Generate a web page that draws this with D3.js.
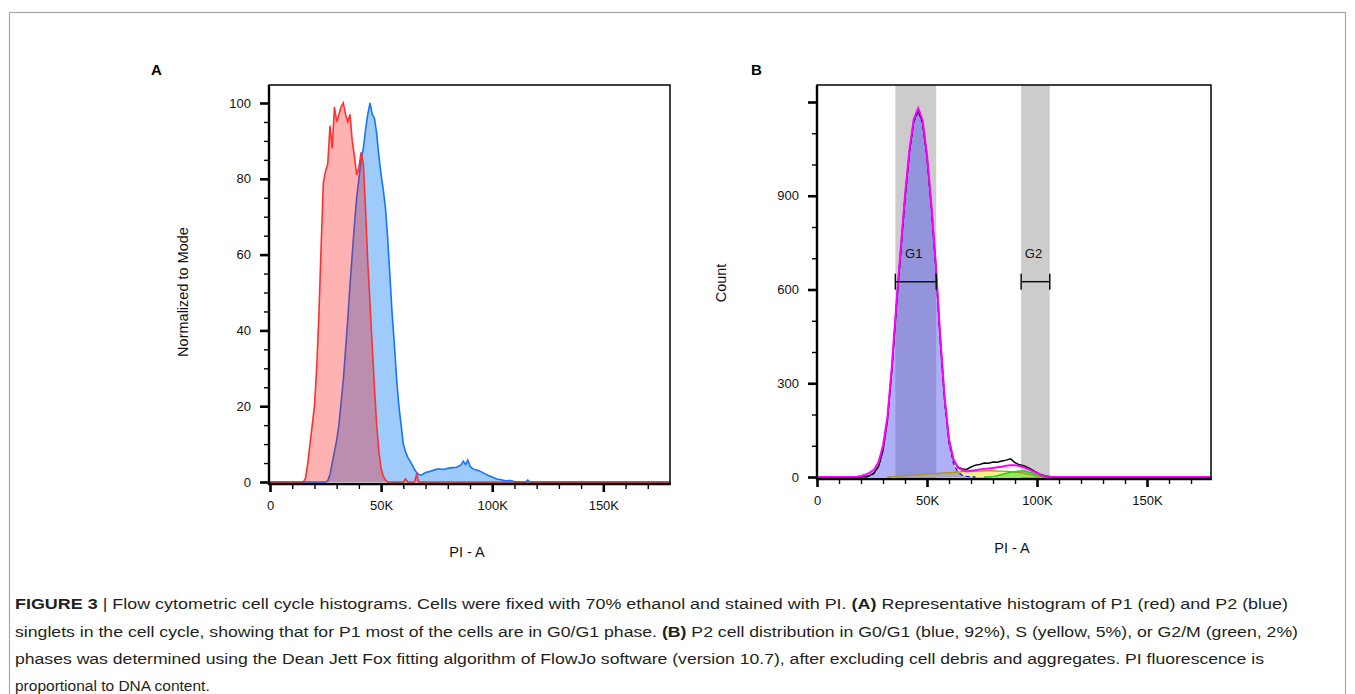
<!DOCTYPE html>
<html>
<head>
<meta charset="utf-8">
<script src="https://cdn.jsdelivr.net/npm/d3@7"></script>
<style>
  body { margin: 0; background: #fff; }
  svg { display: block; font-family: 'Liberation Sans', Arial, sans-serif; }
</style>
</head>
<body>
<script>
// ---- panel A: PI-A bins (in K) and % of mode ----
const p1Bins = [15, 16, 17, 18, 19, 20, 21, 22, 23, 24, 25, 26, 27, 28, 29, 30, 31, 32, 33, 34, 35, 36, 37, 38, 39, 40,
  41, 42, 43, 44, 45, 46, 47, 48, 49, 50, 51, 52, 53, 60, 61, 62, 65, 66, 67]
const p1Values = [0, 1, 5, 10, 15, 20, 30, 44, 62, 79, 82, 84, 94, 88, 99, 95, 97, 99, 100, 97, 95, 97, 90, 86, 81, 83,
  87, 84, 72, 58, 47, 36, 25, 15, 8, 3.5, 1.5, 0.5, 0, 0, 0.8, 0, 0, 2, 0]

const p2Bins = [25, 26, 27, 28, 29, 30, 31, 32, 33, 34, 35, 36, 37, 38, 39, 40, 41, 42, 43, 44, 45, 46, 47, 48, 49, 50,
  51, 52, 53, 54, 55, 56, 57, 58, 59, 60, 61, 62, 63, 64, 65, 66, 67, 68, 70, 72, 74, 76, 78, 80, 82, 84, 86, 87, 88,
  89, 90, 91, 92, 94, 96, 98, 100, 102, 104, 106, 108, 110, 112, 115, 116, 117]
const p2Values = [0, 0.3, 2, 5, 8, 11, 15, 21, 27, 35, 43, 52, 60, 68, 75, 80, 85, 88, 93, 97, 100, 97, 96, 92, 86, 81,
  77, 72, 64, 54, 44, 36, 27, 20, 15, 10, 8, 6.5, 5.5, 4.5, 3.3, 2.5, 2, 1.8, 2.5, 2.8, 3.2, 3.5, 3.3, 3.6, 3.8, 3.9, 4.5, 5.5, 4.6,
  5.8, 4.2, 3.6, 3.3, 3, 2.4, 1.8, 1.3, 0.8, 0.6, 0.3, 0.4, 0.1, 0, 0, 0.5, 0]

// ---- panel B: counts per bin, raw data + Dean Jett Fox model ----
const countBins = [16, 18, 20, 22, 24, 26, 28, 30, 32, 34, 36, 38, 40, 42, 44, 46, 48, 50, 52, 54, 56, 58, 60, 62,
  64, 66, 68, 70, 72, 74, 76, 78, 80, 82, 84, 86, 88, 90, 92, 94, 96, 98, 100, 102, 104, 106, 108, 110]
const dataCounts = [0, 0, 0, 1, 5, 14, 35, 85, 182, 342, 538, 718, 893, 1040, 1140, 1176, 1135, 1025, 865, 675, 445, 250,
  118, 55, 32, 26, 24, 32, 38, 40, 45, 44, 48, 47, 51, 54, 58, 46, 39, 36, 30, 22, 14, 7, 3, 1, 0.5, 0]
const fitCounts = [0, 1, 3, 7, 14, 24, 48, 100, 190, 350, 545, 725, 900, 1046, 1145, 1180, 1142, 1030, 870, 680, 450, 255,
  120, 58, 30, 22, 18, 20, 22, 24, 26, 27, 29, 31, 33, 36, 38, 38, 35, 31, 25, 19, 13, 6, 2, 0.5, 0, 0]
const g1Counts = [0, 0, 0, 0, 2, 12, 36, 88, 184, 344, 538, 717, 891, 1036, 1135, 1170, 1132, 1020, 860, 668, 438, 243,
  108, 44, 16, 6, 2, 0.5, 0, 0, 0, 0, 0, 0, 0, 0, 0, 0, 0, 0, 0, 0, 0, 0, 0, 0, 0, 0]
const sCounts = [0, 0, 0, 0, 0, 0, 0, 0, 0, 1, 2, 3, 4, 5, 6, 7, 8, 9, 10, 11, 12, 13,
  14, 15, 16, 17, 18, 18, 19, 19, 20, 20, 20, 19, 19, 18, 17, 16, 14, 12, 9, 6, 3, 1, 0, 0, 0, 0]
const g2Counts = [0, 0, 0, 0, 0, 0, 0, 0, 0, 0, 0, 0, 0, 0, 0, 0, 0, 0, 0, 0, 0, 0,
  0, 0, 0, 0, 0, 0, 0, 0, 0, 0.5, 2, 4, 8, 12, 15, 17, 19, 19, 16, 12, 7, 3, 1, 0, 0, 0]

const gateNames = ['G1', 'G2']
const gateFrom = [35.6, 92.8]
const gateTo = [54.2, 105.8]
const gateLevel = 625

// ---- ticks ----
const piTicks = [0, 50, 100, 150]
const piLabels = ['0', '50K', '100K', '150K']
const modeTicks = [0, 20, 40, 60, 80, 100]
const modeLabels = ['0', '20', '40', '60', '80', '100']
const countTicks = [0, 300, 600, 900, 1200]
const countLabels = ['0', '300', '600', '900', '']

const captionLines = [
  [['FIGURE 3', true], [' | Flow cytometric cell cycle histograms. Cells were fixed with 70% ethanol and stained with PI. ', false],
    ['(A)', true], [' Representative histogram of P1 (red) and P2 (blue)', false]],
  [['singlets in the cell cycle, showing that for P1 most of the cells are in G0/G1 phase. ', false], ['(B)', true],
    [' P2 cell distribution in G0/G1 (blue, 92%), S (yellow, 5%), or G2/M (green, 2%)', false]],
  [['phases was determined using the Dean Jett Fox fitting algorithm of FlowJo software (version 10.7), after excluding cell debris and aggregates. PI fluorescence is', false]],
  [['proportional to DNA content.', false]]
]
const captionWidths = [1273, 1283, 1249, null]

function zip (bins, vals, xMax) {
  return [[0, 0]].concat(bins.map((b, i) => [b, vals[i]]), [[xMax, 0]])
}

function frame (svg, box, x, y, { yTicks, yLabels, yMinorStep, clipId }) {
  svg.append('clipPath').attr('id', clipId)
    .append('rect')
    .attr('x', box.left).attr('y', box.top)
    .attr('width', box.right - box.left).attr('height', box.bottom - box.top)

  const axes = svg.append('g')

  const styleAxis = (g, width) => {
    g.select('.domain').remove()
    g.selectAll('line').attr('stroke', '#000').attr('stroke-width', width)
    g.selectAll('text').attr('font-size', 13).attr('fill', '#111')
      .attr('font-family', "'Liberation Sans', Arial, sans-serif")
  }

  const yMinor = d3.range(0, y.domain()[1] + 0.01, yMinorStep).filter(v => !yTicks.includes(v))
  axes.append('g').attr('transform', `translate(${box.left},0)`)
    .call(d3.axisLeft(y).tickValues(yMinor).tickSize(5).tickFormat(''))
    .call(g => styleAxis(g, 1.4))
  axes.append('g').attr('transform', `translate(${box.left},0)`)
    .call(d3.axisLeft(y).tickValues(yTicks).tickSize(9).tickPadding(9).tickFormat((d, i) => yLabels[i]))
    .call(g => styleAxis(g, 2.6))

  const xMinor = d3.range(10, 175, 10).filter(v => !piTicks.includes(v))
  axes.append('g').attr('transform', `translate(0,${box.bottom})`)
    .call(d3.axisBottom(x).tickValues(xMinor).tickSize(5).tickFormat(''))
    .call(g => styleAxis(g, 1.4))
  axes.append('g').attr('transform', `translate(0,${box.bottom})`)
    .call(d3.axisBottom(x).tickValues(piTicks).tickSize(8).tickPadding(9).tickFormat((d, i) => piLabels[i]))
    .call(g => styleAxis(g, 2.6))

  return axes
}

function outline (svg, box) {
  svg.append('rect')
    .attr('x', box.left).attr('y', box.top)
    .attr('width', box.right - box.left).attr('height', box.bottom - box.top)
    .attr('fill', 'none').attr('stroke', '#000').attr('stroke-width', 1.5)
  svg.append('line')
    .attr('x1', box.left).attr('x2', box.left).attr('y1', box.top).attr('y2', box.bottom + 1)
    .attr('stroke', '#000').attr('stroke-width', 2.4)
  svg.append('line')
    .attr('x1', box.left - 1).attr('x2', box.right + 0.75).attr('y1', box.bottom).attr('y2', box.bottom)
    .attr('stroke', '#000').attr('stroke-width', 2.4)
}

function panelA (svg) {
  const box = { left: 269, top: 85, right: 670, bottom: 484 }
  const x = d3.scaleLinear([0, 180], [270, 670])
  const y = d3.scaleLinear([0, 100], [482, 103])

  frame(svg, box, x, y, { yTicks: modeTicks, yLabels: modeLabels, yMinorStep: 5, clipId: 'clipA' })

  const area = d3.area().x(d => x(d[0])).y0(y(0)).y1(d => y(d[1]))
  const line = d3.line().x(d => x(d[0])).y(d => y(d[1]))
  const p1 = zip(p1Bins, p1Values, 180)
  const p2 = zip(p2Bins, p2Values, 180)

  const g = svg.append('g').attr('clip-path', 'url(#clipA)')
  g.append('path').attr('d', area(p2)).attr('fill', '#9ecbfa')
  g.append('path').attr('d', line(p2)).attr('fill', 'none').attr('stroke', '#1476ff').attr('stroke-width', 1.6)
  g.append('path').attr('d', area(p1)).attr('fill', 'rgba(255,0,0,0.3)')
  g.append('path').attr('d', line(p1)).attr('fill', 'none').attr('stroke', '#ff3030').attr('stroke-width', 1.6)

  outline(svg, box)

  svg.append('text').attr('x', 467).attr('y', 557).attr('text-anchor', 'middle')
    .attr('font-size', 14.5).attr('fill', '#111').text('PI - A')
  svg.append('text').attr('transform', 'translate(188,292) rotate(-90)').attr('text-anchor', 'middle')
    .attr('font-size', 14.5).attr('fill', '#111').text('Normalized to Mode')
  svg.append('text').attr('x', 151).attr('y', 75).attr('font-size', 15).attr('font-weight', 'bold').text('A')
}

function panelB (svg) {
  const box = { left: 817, top: 85, right: 1211, bottom: 479 }
  const x = d3.scaleLinear([0, 180], [817, 1213])
  const y = d3.scaleLinear([0, 1200], [477, 102])

  const bands = svg.append('g')
  gateNames.forEach((name, i) => {
    bands.append('rect')
      .attr('x', x(gateFrom[i])).attr('y', box.top)
      .attr('width', x(gateTo[i]) - x(gateFrom[i])).attr('height', box.bottom - box.top)
      .attr('fill', '#cccccc')
  })

  frame(svg, box, x, y, { yTicks: countTicks, yLabels: countLabels, yMinorStep: 100, clipId: 'clipB' })

  const area = d3.area().x(d => x(d[0])).y0(y(0)).y1(d => y(d[1]))
  const line = d3.line().x(d => x(d[0])).y(d => y(d[1]))
  const g = svg.append('g').attr('clip-path', 'url(#clipB)')

  const sPts = countBins.map((b, i) => [b, sCounts[i]]).filter((d, i) => i >= 8 && i <= 44)
  const g2Pts = countBins.map((b, i) => [b, g2Counts[i]]).filter((d, i) => i >= 30 && i <= 45)
  const g1Pts = countBins.map((b, i) => [b, g1Counts[i]]).filter((d, i) => i >= 3 && i <= 28)

  g.append('path').attr('d', area(sPts)).attr('fill', '#f8f08c')
  g.append('path').attr('d', area(g2Pts)).attr('fill', 'rgba(130,225,80,0.8)')
  g.append('path').attr('d', area(g1Pts)).attr('fill', 'rgba(80,80,240,0.45)')
  g.append('path').attr('d', line(sPts)).attr('fill', 'none').attr('stroke', '#a89818').attr('stroke-width', 1.3)
  g.append('path').attr('d', line(g2Pts)).attr('fill', 'none').attr('stroke', '#22cc22').attr('stroke-width', 1.5)
  g.append('path').attr('d', line(g1Pts)).attr('fill', 'none').attr('stroke', '#1010ff')
    .attr('stroke-width', 1.3).attr('stroke-dasharray', '4,3')
  g.append('path').attr('d', line(zip(countBins, dataCounts, 180))).attr('fill', 'none')
    .attr('stroke', '#000').attr('stroke-width', 1.5)
  g.append('path').attr('d', line(zip(countBins, fitCounts, 180))).attr('fill', 'none')
    .attr('stroke', '#ff00ff').attr('stroke-width', 2)

  // gate brackets
  gateNames.forEach((name, i) => {
    const gy = y(gateLevel)
    const x0 = x(gateFrom[i])
    const x1 = x(gateTo[i])
    const b = svg.append('g').attr('stroke', '#111').attr('stroke-width', 1.5)
    b.append('line').attr('x1', x0).attr('x2', x1).attr('y1', gy).attr('y2', gy)
    b.append('line').attr('x1', x0).attr('x2', x0).attr('y1', gy - 8).attr('y2', gy + 8)
    b.append('line').attr('x1', x1).attr('x2', x1).attr('y1', gy - 8).attr('y2', gy + 8)
    svg.append('text').attr('x', (x0 + x1) / 2 - 2).attr('y', gy - 24).attr('text-anchor', 'middle')
      .attr('font-size', 13).attr('fill', '#111').text(name)
  })

  outline(svg, box)

  svg.append('text').attr('x', 1012).attr('y', 553).attr('text-anchor', 'middle')
    .attr('font-size', 14.5).attr('fill', '#111').text('PI - A')
  svg.append('text').attr('transform', 'translate(726,283) rotate(-90)').attr('text-anchor', 'middle')
    .attr('font-size', 14.5).attr('fill', '#111').text('Count')
  svg.append('text').attr('x', 751).attr('y', 75).attr('font-size', 15).attr('font-weight', 'bold').text('B')
}

function caption (svg) {
  const baselines = [609, 636.5, 664, 691]
  captionLines.forEach((parts, i) => {
    const t = svg.append('text')
      .attr('x', 15).attr('y', baselines[i])
      .attr('font-size', 15.5).attr('fill', '#231f20')
    if (captionWidths[i]) {
      t.attr('textLength', captionWidths[i]).attr('lengthAdjust', 'spacingAndGlyphs')
    }
    parts.forEach(([s, bold]) => {
      t.append('tspan').attr('font-weight', bold ? 'bold' : 'normal').text(s)
    })
  })
}

function main ({ w, h }) {
  const svg = d3.select('body')
    .append('svg')
    .attr('width', w)
    .attr('height', h)

  svg.append('rect').attr('width', w).attr('height', h).attr('fill', '#fff')
  svg.append('rect')
    .attr('x', 9.5).attr('y', 12.5).attr('width', 1336).attr('height', 720)
    .attr('fill', 'none').attr('stroke', '#a8a8a8').attr('stroke-width', 1.2)

  panelA(svg)
  panelB(svg)
  caption(svg)
}

main({ w: 1355, h: 694 })
</script>
</body>
</html>
